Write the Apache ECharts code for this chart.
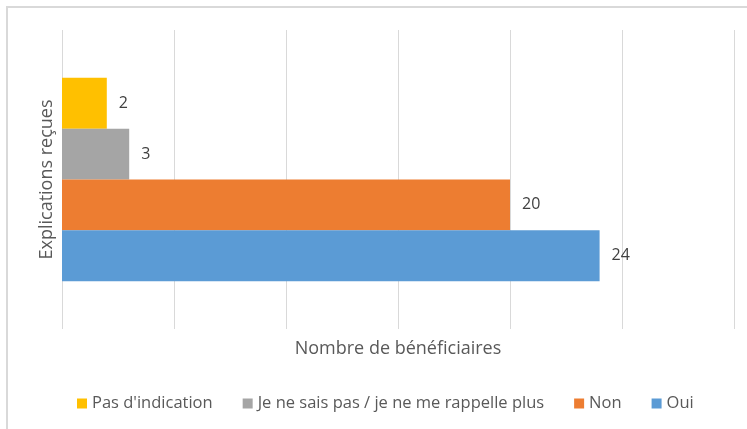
<!DOCTYPE html>
<html><head><meta charset="utf-8">
<script src="https://cdn.jsdelivr.net/npm/echarts@6/dist/echarts.min.js"></script>
<style>html,body{margin:0;padding:0;background:#fff}#c{width:747px;height:429px}</style>
</head><body><div id="c"></div>
<script>
const categories = ["Explications reçues"];
const seriesNames = ["Pas d'indication", "Je ne sais pas / je ne me rappelle plus", "Non", "Oui"];
const seriesValues = [[2], [3], [20], [24]];
const seriesColors = ["#FFC000", "#A5A5A5", "#ED7D31", "#5B9BD5"];
const xTitle = "Nombre de bénéficiaires";

const FONT = "'Open Sans', sans-serif";
const chart = echarts.init(document.getElementById('c'), null, {renderer: 'canvas'});
chart.setOption({
  animation: false,
  textStyle: {fontFamily: FONT},
  graphic: [{type: 'rect', shape: {x: 7, y: 7, width: 800, height: 500}, style: {fill: 'none', stroke: '#d9d9d9', lineWidth: 2}, silent: true}],
  grid: {left: 62, right: 13, top: 30, bottom: 100},
  xAxis: {
    type: 'value', min: 0, max: 30, interval: 5,
    axisLabel: {show: false}, axisTick: {show: false}, axisLine: {show: false},
    splitLine: {lineStyle: {color: '#d9d9d9', width: 1}},
    name: xTitle, nameLocation: 'middle', nameGap: 11,
    nameTextStyle: {fontSize: 18, color: '#595959', fontFamily: FONT}
  },
  yAxis: {
    type: 'category', data: categories,
    axisLabel: {show: false}, axisTick: {show: false}, axisLine: {show: false},
    name: categories[0], nameLocation: 'middle', nameGap: 6, nameRotate: 90,
    nameTextStyle: {fontSize: 18, color: '#595959', fontFamily: FONT}
  },
  legend: {
    data: seriesNames, bottom: 12, left: 72, itemWidth: 10, itemHeight: 10, itemGap: 30,
    icon: 'rect', textStyle: {fontSize: 16.5, color: '#595959', fontFamily: FONT}
  },
  series: seriesNames.map((n, i) => ({
    name: n, type: 'bar', data: seriesValues[i], barGap: '0%', barCategoryGap: '32%',
    itemStyle: {color: seriesColors[i]},
    label: {show: true, position: 'right', distance: 12, fontSize: 16, color: '#404040', fontFamily: FONT}
  }))
});
</script></body></html>
